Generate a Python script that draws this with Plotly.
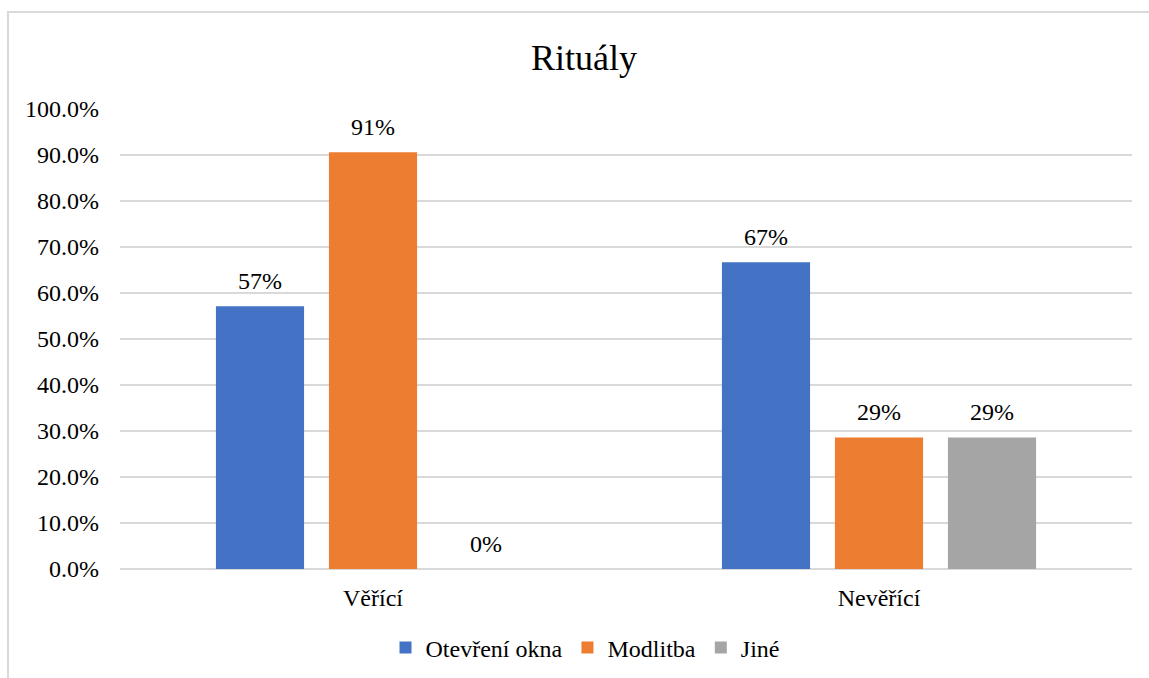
import plotly.graph_objects as go

categories = ["Věřící", "Nevěřící"]
series_names = ["Otevření okna", "Modlitba", "Jiné"]
otevreni_okna = [0.571, 0.667]
modlitba = [0.906, 0.286]
jine = [0.0, 0.286]
colors = ["#4472C4", "#ED7D31", "#A5A5A5"]
y_ticks = [i / 10 for i in range(11)]

W, H = 1149, 678
ML, MR, MT, MB = 120, 17, 109, 109
FONT = "Liberation Serif"
FS = 24

fig = go.Figure()
all_series = [otevreni_okna, modlitba, jine]
for i, (name, vals, col) in enumerate(zip(series_names, all_series, colors)):
    fig.add_trace(go.Bar(
        x=categories, y=vals, name=name, marker_color=col, marker_line_width=0,
        offsetgroup=str(i),
    ))
for i, vals in enumerate(all_series):
    fig.add_trace(go.Scatter(
        x=categories, y=vals, mode="markers+text", offsetgroup=str(i),
        marker=dict(size=16, color="rgba(0,0,0,0)"),
        text=[f"{v:.0%}" for v in vals], textposition="top center",
        textfont=dict(family=FONT, size=FS, color="#000000"),
        showlegend=False, hoverinfo="skip", cliponaxis=False,
    ))

pw = W - ML - MR
ph = H - MT - MB
fig.add_shape(type="rect", xref="paper", yref="paper",
              x0=(8 - ML) / pw, x1=(W + 5 - ML) / pw,
              y0=(H - MT - (H + 5)) / ph, y1=(H - MT - 12) / ph,
              line=dict(color="#d9d9d9", width=2), fillcolor="rgba(0,0,0,0)", layer="below")

fig.update_layout(
    width=W, height=H,
    margin=dict(l=ML, r=MR, t=MT, b=MB, autoexpand=False),
    paper_bgcolor="white", plot_bgcolor="white",
    font=dict(family=FONT, size=FS, color="#000000"),
    title=dict(text="Rituály", x=584 / W, xanchor="center", y=1 - 57 / H, yanchor="middle",
               font=dict(family=FONT, size=36, color="#000000")),
    barmode="group", bargap=0.33, bargroupgap=0.22,
    scattermode="group", scattergap=0.33,
    showlegend=True,
    legend=dict(orientation="h", x=585 / W, xref="container", xanchor="center",
                y=(569 - 648) / ph, yanchor="middle",
                font=dict(family=FONT, size=FS, color="#000000"), itemwidth=30,
                traceorder="normal"),
    xaxis=dict(showgrid=False, showline=False, ticks="", ticklabelstandoff=12,
               tickfont=dict(family=FONT, size=FS, color="#000000")),
    yaxis=dict(range=[0, 1], tickvals=y_ticks, tickformat=".1%", showgrid=True,
               gridcolor="#d9d9d9", gridwidth=1.5, zeroline=True, zerolinecolor="#d9d9d9",
               zerolinewidth=1.5, showline=False, ticks="", ticklabelstandoff=20,
               tickfont=dict(family=FONT, size=FS, color="#000000")),
)

fig.write_html("out.html")
